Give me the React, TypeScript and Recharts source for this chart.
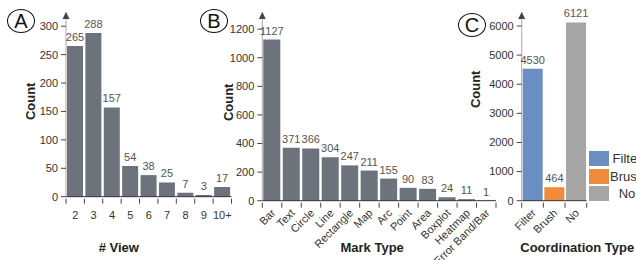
import React from 'react';
import { BarChart, Bar, XAxis, YAxis, Cell, LabelList, Legend } from 'recharts';

const viewCategories = ['2', '3', '4', '5', '6', '7', '8', '9', '10+'];
const viewCounts = [265, 288, 157, 54, 38, 25, 7, 3, 17];
const viewTicks = [0, 50, 100, 150, 200, 250, 300];

const markCategories = ['Bar', 'Text', 'Circle', 'Line', 'Rectangle', 'Map', 'Arc', 'Point', 'Area', 'Boxplot', 'Heatmap', 'Error Band/Bar'];
const markCounts = [1127, 371, 366, 304, 247, 211, 155, 90, 83, 24, 11, 1];
const markTicks = [0, 200, 400, 600, 800, 1000, 1200];

const coordCategories = ['Filter', 'Brush', 'No'];
const coordCounts = [4530, 464, 6121];
const coordColors = ['#6a8ec2', '#ee8b3d', '#a5a5a5'];
const coordTicks = [0, 1000, 2000, 3000, 4000, 5000, 6000];

const viewData = viewCategories.map((name, i) => ({ name, value: viewCounts[i] }));
const markData = markCategories.map((name, i) => ({ name, value: markCounts[i] }));
const coordData = coordCategories.map((name, i) => ({ name, value: coordCounts[i] }));

const FONT = '"Liberation Sans", Arial, Helvetica, sans-serif';
const BAR_GREY = '#6c737c';
const TEXT = '#333';

// x tick: mark at band edges, label centred (optionally rotated)
const makeTick = (count: number, angle: number) => (props: any) => {
  const { x, y, payload, index } = props;
  const half = payload && payload.offset ? payload.offset : 0;
  return (
    <g>
      <line x1={x - half} x2={x - half} y1={y} y2={y + 5} stroke="#444" />
      {index === count - 1 && <line x1={x + half} x2={x + half} y1={y} y2={y + 5} stroke="#444" />}
      {angle ? (
        <text transform={`translate(${x + 4},${y + 11}) rotate(${angle})`} textAnchor="end" fontSize={11} fill={TEXT}>
          {payload.value}
        </text>
      ) : (
        <text x={x} y={y + 20} textAnchor="middle" fontSize={11} fill={TEXT}>
          {payload.value}
        </text>
      )}
    </g>
  );
};

const yLabel = (dx: number, dy: number) => (props: any) => {
  const { x, y, width, height } = props.viewBox;
  const ax = x + width;
  return (
    <g>
      <text
        transform={`translate(${x + dx},${y + height / 2 + dy}) rotate(-90)`}
        textAnchor="middle"
        fontSize={13}
        fontWeight="bold"
        fill="#222"
      >
        Count
      </text>
      <path d={`M${ax - 3.5},${y + 7} L${ax},${y} L${ax + 3.5},${y + 7} Z`} fill="#444" />
    </g>
  );
};

const xLabel = (text: string, dx: number) => (props: any) => {
  const { x, y, width, height } = props.viewBox;
  return (
    <text x={x + width / 2 + dx} y={y + height - 8} textAnchor="middle" fontSize={13} fontWeight="bold" fill="#222">
      {text}
    </text>
  );
};

const CoordLegend = () => (
  <div style={{ fontFamily: FONT, fontSize: 13, color: TEXT }}>
    {coordCategories.map((c, i) => (
      <div key={c} style={{ display: 'flex', alignItems: 'center', height: 17.6 }}>
        <span style={{ display: 'inline-block', width: 20, height: 15, background: coordColors[i] }} />
        <span style={{ display: 'inline-block', width: 36, textAlign: 'center', whiteSpace: 'nowrap' }}>{c}</span>
      </div>
    ))}
  </div>
);

const PanelTag = ({ letter, cx, cy }: { letter: string; cx: number; cy: number }) => (
  <div
    style={{
      position: 'absolute',
      left: cx - 14,
      top: cy - 12,
      width: 26,
      height: 22,
      border: '1.2px solid #111',
      borderRadius: '50%',
      fontFamily: FONT,
      fontSize: 20,
      lineHeight: '22px',
      textAlign: 'center',
      color: '#111',
    }}
  >
    {letter}
  </div>
);

const valueLabel = { position: 'top' as const, offset: 5, fontSize: 11, fill: '#555' };

export default function App() {
  return (
    <div style={{ position: 'absolute', left: 0, top: 0, width: 636, height: 260, fontFamily: FONT, background: '#fff', overflow: 'hidden' }}>
      <div style={{ position: 'absolute', left: 0, top: 0 }}>
        <BarChart width={240} height={260} data={viewData} margin={{ top: 12, right: 8.5, bottom: 0, left: 0 }} barCategoryGap={1}>
          <XAxis dataKey="name" interval={0} tickSize={0} tickLine={false} height={63.3} axisLine={{ stroke: '#333' }} tick={makeTick(viewCategories.length, 0)} label={{ content: xLabel('# View', -30) }} />
          <YAxis type="number" domain={[0, 325]} ticks={viewTicks} width={66} tickSize={5} tickMargin={3} tick={{ fontSize: 11, fill: TEXT }} tickLine={{ stroke: '#444' }} axisLine={{ stroke: '#aaa' }} label={{ content: yLabel(35, -3) }} />
          <Bar dataKey="value" fill={BAR_GREY} isAnimationActive={false}>
            <LabelList dataKey="value" {...valueLabel} />
          </Bar>
        </BarChart>
      </div>
      <div style={{ position: 'absolute', left: 200, top: 0 }}>
        <BarChart width={300} height={260} data={markData} margin={{ top: 12, right: 4, bottom: 0, left: 0 }} barCategoryGap={1}>
          <XAxis dataKey="name" interval={0} tickSize={0} tickLine={false} height={59.3} axisLine={{ stroke: '#333' }} tick={makeTick(markCategories.length, -45)} label={{ content: xLabel('Mark Type', -7) }} />
          <YAxis type="number" domain={[0, 1320]} ticks={markTicks} width={62.3} tickSize={5} tickMargin={3} tick={{ fontSize: 11, fill: TEXT }} tickLine={{ stroke: '#444' }} axisLine={{ stroke: '#aaa' }} label={{ content: yLabel(33, -4) }} />
          <Bar dataKey="value" fill={BAR_GREY} isAnimationActive={false}>
            <LabelList dataKey="value" {...valueLabel} />
          </Bar>
        </BarChart>
      </div>
      <div style={{ position: 'absolute', left: 440, top: 0 }}>
        <BarChart width={196} height={260} data={coordData} margin={{ top: 12, right: 49.3, bottom: 0, left: 0 }} barCategoryGap={1}>
          <XAxis dataKey="name" interval={0} tickSize={0} tickLine={false} height={59.3} axisLine={{ stroke: '#333' }} tick={makeTick(coordCategories.length, -45)} label={{ content: xLabel('Coordination Type', 23) }} />
          <YAxis type="number" domain={[0, 6480]} ticks={coordTicks} width={81.7} tickSize={5} tickMargin={3} tick={{ fontSize: 11, fill: TEXT }} tickLine={{ stroke: '#444' }} axisLine={{ stroke: '#aaa' }} label={{ content: yLabel(40, -17) }} />
          <Legend
            layout="vertical"
            align="center"
            verticalAlign="middle"
            content={() => <CoordLegend />}
            wrapperStyle={{ left: 149, top: 150, width: 60 }}
          />
          <Bar dataKey="value" isAnimationActive={false}>
            {coordData.map((d, i) => (
              <Cell key={d.name} fill={coordColors[i]} />
            ))}
            <LabelList dataKey="value" {...valueLabel} />
          </Bar>
        </BarChart>
      </div>
      <PanelTag letter="A" cx={21} cy={21} />
      <PanelTag letter="B" cx={214} cy={21} />
      <PanelTag letter="C" cx={472} cy={25} />
    </div>
  );
}
